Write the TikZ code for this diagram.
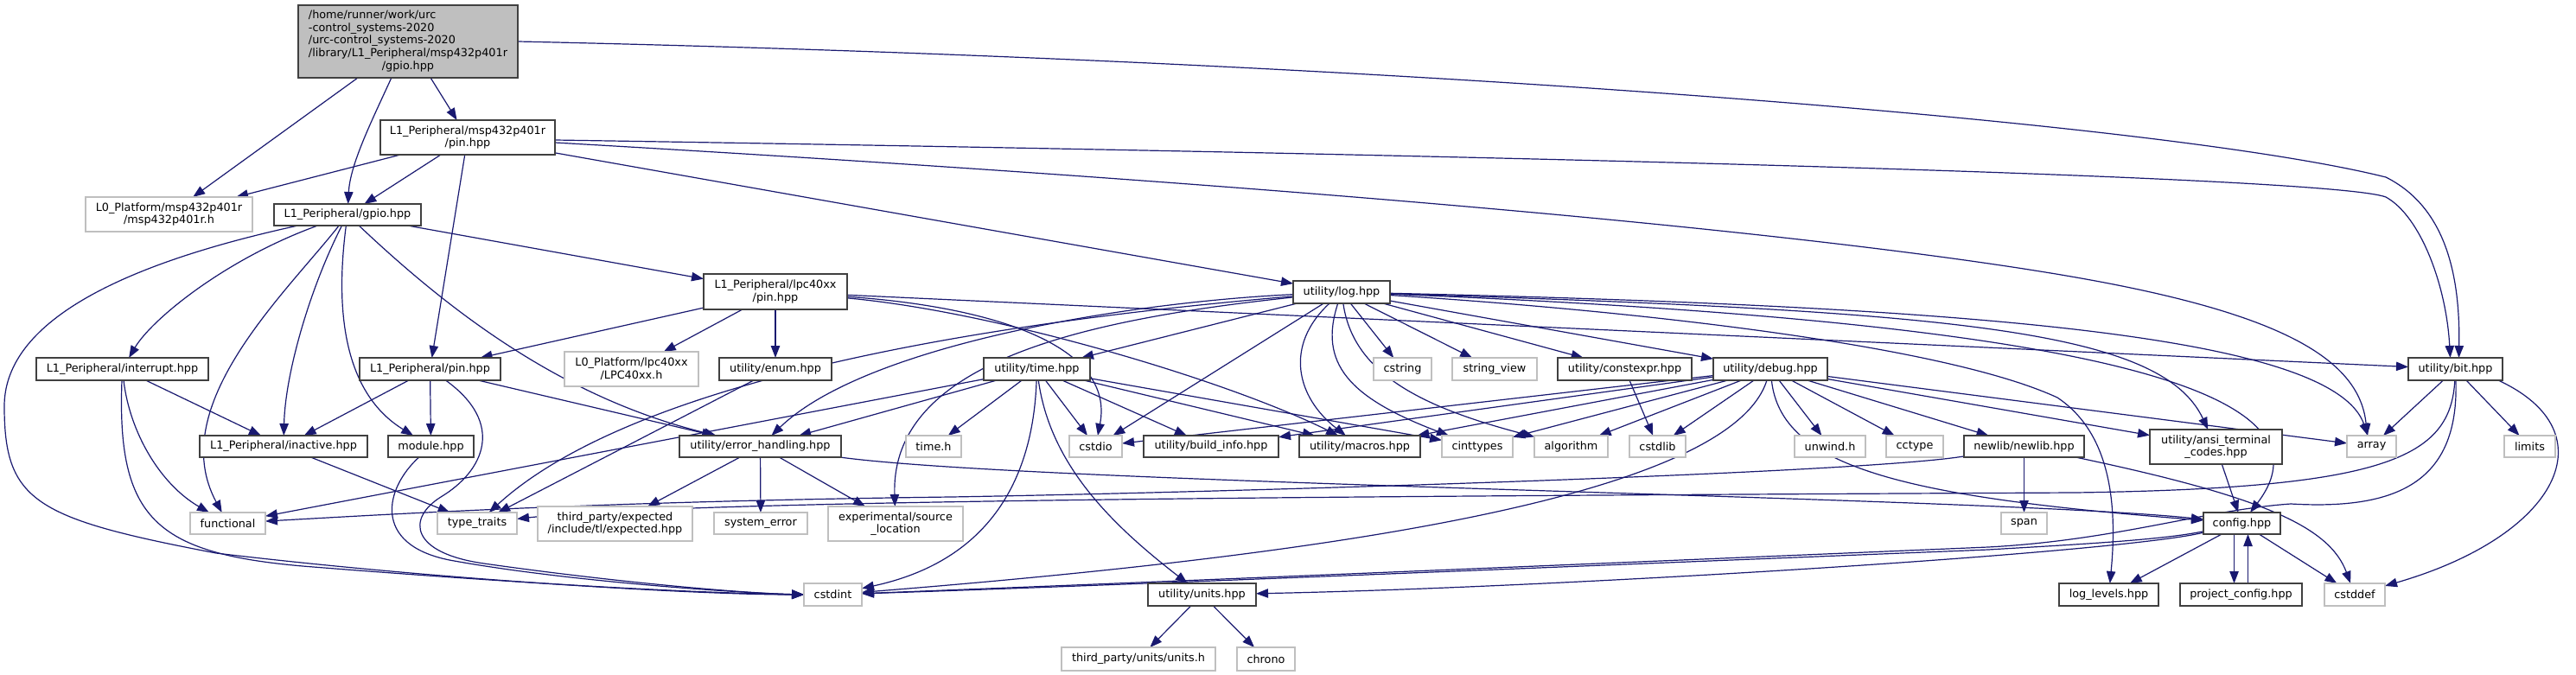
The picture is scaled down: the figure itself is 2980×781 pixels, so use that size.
\documentclass[tikz,border=0pt]{standalone}
\usepackage{fontspec}
\setmainfont{DejaVu Sans}
\usetikzlibrary{arrows.meta,calc}
\definecolor{edgeblue}{HTML}{191970}
\definecolor{bordergray}{HTML}{404040}
\definecolor{lightborder}{HTML}{BFBFBF}
\definecolor{rootfill}{HTML}{BFBFBF}
\pgfdeclarelayer{bg}
\pgfdeclarelayer{paper}
\pgfsetlayers{paper,bg,main}
\newcommand\nd[7]{\node[#1,minimum width=#5*0.5pt,minimum height=#6*0.5pt] (#2) at (#3,#4) {#7};}
\begin{document}
\begin{tikzpicture}[x=0.5pt,y=-0.5pt,
  every node/.style={font=\fontsize{6.4pt}{7.35pt}\selectfont, inner sep=0pt, outer sep=0pt, align=center, text=black},
  bx/.style={draw=bordergray, line width=0.6pt, fill=white},
  gx/.style={draw=lightborder, line width=0.6pt, fill=white},
  rootst/.style={draw=bordergray, line width=0.6pt, fill=rootfill},
  e/.style={draw=edgeblue, line width=0.6pt, -{Triangle[length=7pt,width=5.2pt]}}]
\useasboundingbox (0,0) rectangle (2980,781);
\begin{pgfonlayer}{paper}
\fill[white] (0,0) rectangle (2980,781);
\end{pgfonlayer}

% ---- nodes ----
\nd{rootst}{root}{472}{48}{254}{84}{\begin{tabular}{@{}l@{}}/home/runner/work/urc\\-control\_systems-2020\\/urc-control\_systems-2020\\/library/L1\_Peripheral/msp432p401r\\\multicolumn{1}{@{}c@{}}{/gpio.hpp}\end{tabular}}
\nd{bx}{pinm}{541}{159}{202}{40}{L1\_Peripheral/msp432p401r\\/pin.hpp}
\nd{gx}{l0m}{195.5}{248}{193}{40}{L0\_Platform/msp432p401r\\/msp432p401r.h}
\nd{bx}{gpio}{402}{248.5}{170}{25}{L1\_Peripheral/gpio.hpp}
\nd{bx}{intr}{141.5}{427}{199}{26}{L1\_Peripheral/interrupt.hpp}
\nd{bx}{pin}{497.5}{427}{163}{26}{L1\_Peripheral/pin.hpp}
\nd{gx}{l0l}{730.5}{427}{155}{40}{L0\_Platform/lpc40xx\\/LPC40xx.h}
\nd{bx}{pinl}{897}{337.5}{166}{41}{L1\_Peripheral/lpc40xx\\/pin.hpp}
\nd{bx}{enum}{897}{427}{130}{26}{utility/enum.hpp}
\nd{bx}{time}{1199.5}{427}{123}{26}{utility/time.hpp}
\nd{bx}{log}{1552}{338}{112}{26}{utility/log.hpp}
\nd{gx}{cstring}{1622.5}{427}{67}{26}{cstring}
\nd{gx}{strview}{1729}{427}{98}{26}{string\_view}
\nd{bx}{constexpr}{1879.5}{427}{155}{26}{utility/constexpr.hpp}
\nd{bx}{debug}{2048}{427}{132}{26}{utility/debug.hpp}
\nd{bx}{bit}{2840.5}{427}{109}{26}{utility/bit.hpp}

\nd{bx}{inactive}{328}{516.5}{194}{25}{L1\_Peripheral/inactive.hpp}
\nd{bx}{module}{498.5}{516.5}{99}{25}{module.hpp}
\nd{bx}{errh}{879.5}{516.5}{187}{25}{utility/error\_handling.hpp}
\nd{gx}{timeh}{1080}{516.5}{64}{25}{time.h}
\nd{gx}{cstdio}{1267.5}{516.5}{61}{25}{cstdio}
\nd{bx}{build}{1401}{516.5}{156}{25}{utility/build\_info.hpp}
\nd{bx}{macros}{1573}{516.5}{140}{25}{utility/macros.hpp}
\nd{gx}{cinttypes}{1709}{516.5}{82}{25}{cinttypes}
\nd{gx}{algorithm}{1817.5}{516.5}{85}{25}{algorithm}
\nd{gx}{cstdlib}{1917.5}{516.5}{65}{25}{cstdlib}
\nd{gx}{unwind}{2117}{516.5}{82}{25}{unwind.h}
\nd{gx}{cctype}{2215}{516.5}{66}{25}{cctype}
\nd{bx}{newlib}{2341.5}{516.5}{139}{25}{newlib/newlib.hpp}
\nd{bx}{ansi}{2563.5}{517}{153}{40}{utility/ansi\_terminal\\\_codes.hpp}
\nd{gx}{array}{2743.5}{516.5}{57}{25}{array}
\nd{gx}{limits}{2926.5}{516.5}{59}{25}{limits}

\nd{gx}{functional}{263.5}{605.5}{87}{25}{functional}
\nd{gx}{typetraits}{552}{605.5}{92}{25}{type\_traits}
\nd{gx}{expected}{711.5}{606}{179}{40}{third\_party/expected\\/include/tl/expected.hpp}
\nd{gx}{syserr}{880}{605.5}{108}{25}{system\_error}
\nd{gx}{srcloc}{1036}{606}{156}{40}{experimental/source\\\_location}
\nd{gx}{span}{2341.5}{605.5}{53}{25}{span}
\nd{bx}{config}{2593.5}{605.5}{89}{25}{config.hpp}

\nd{gx}{cstdint}{963.5}{688}{67}{26}{cstdint}
\nd{bx}{units}{1390.5}{688}{125}{26}{utility/units.hpp}
\nd{bx}{loglevels}{2439.5}{688}{115}{26}{log\_levels.hpp}
\nd{bx}{projcfg}{2592.5}{688}{141}{26}{project\_config.hpp}
\nd{gx}{cstddef}{2724}{688}{70}{26}{cstddef}

\nd{gx}{unitsh}{1317}{762.5}{178}{27}{third\_party/units/units.h}
\nd{gx}{chrono}{1464.5}{762.5}{67}{27}{chrono}

% ---- edges ----
\begin{pgfonlayer}{bg}
% root
\draw[e] (root) -- (l0m);
\draw[e] (root) .. controls (430,140) and (405,190) .. (gpio);
\draw[e] (root) -- (pinm);
\draw[e] (root.east) .. controls (1600,70) and (2500,140) .. (2760,205) .. controls (2830,240) and (2846,320) .. ($(bit.north)+(4,0)$);
% msp432 pin
\draw[e] (pinm) -- (l0m);
\draw[e] (pinm) -- (gpio);
\draw[e] (pinm) -- (pin);
\draw[e] (pinm) -- (log);
\draw[e] ($(pinm.east)+(0,3)$) .. controls (1800,180) and (2700,205) .. (2760,228) .. controls (2800,250) and (2830,330) .. ($(bit.north)+(-6,0)$);
\draw[e] ($(pinm.east)+(0,6)$) .. controls (1600,220) and (2200,280) .. (2450,330) .. controls (2650,370) and (2730,420) .. ($(array.north)+(-5,0)$);
% gpio
\draw[e] (gpio) .. controls (120,310) and (5,380) .. (5,470) .. controls (5,580) and (40,600) .. (250,640) .. controls (500,670) and (800,688) .. (cstdint.west);
\draw[e] (gpio) .. controls (260,300) and (175,370) .. (intr);
\draw[e] (gpio) .. controls (330,340) and (190,470) .. (functional);
\draw[e] (gpio) .. controls (360,330) and (330,430) .. (inactive);
\draw[e] (gpio) .. controls (390,340) and (390,450) .. (module);
\draw[e] (gpio) .. controls (520,360) and (650,460) .. (errh);
\draw[e] (gpio) -- (pinl);
% interrupt
\draw[e] (intr) -- (inactive);
\draw[e] (intr) .. controls (150,500) and (185,560) .. (functional);
\draw[e] (intr) .. controls (135,600) and (180,640) .. (350,655) .. controls (600,675) and (800,686) .. (cstdint.west);
% pin
\draw[e] (pin) -- (inactive);
\draw[e] (pin) -- (module);
\draw[e] (pin) -- (errh);
\draw[e] (pin) .. controls (585,490) and (560,545) .. (510,575) .. controls (470,600) and (475,640) .. (560,652) .. controls (700,672) and (850,686) .. (cstdint.west);
% module, inactive
\draw[e] (module) .. controls (445,565) and (430,630) .. (520,648) .. controls (650,672) and (850,686) .. (cstdint.west);
\draw[e] (inactive) -- (typetraits);
% lpc40xx pin
\draw[e] (pinl) -- (l0l);
\draw[e] (pinl) -- (pin);
\draw[e] (pinl) -- (enum);
\draw[e] (pinl) -- (bit);
\draw[e] (pinl) .. controls (1150,355) and (1290,400) .. (cstdio);
\draw[e] (pinl) .. controls (1150,360) and (1420,440) .. (macros);
\draw[e] (enum) -- (typetraits);
% time
\draw[e] (time) -- (functional);
\draw[e] (time) -- (errh);
\draw[e] (time) -- (timeh);
\draw[e] (time) -- (cstdio);
\draw[e] (time) -- (build);
\draw[e] (time) -- (cinttypes);
\draw[e] (time) -- (macros);
\draw[e] (time) .. controls (1195,560) and (1140,650) .. (cstdint);
\draw[e] (time) .. controls (1215,540) and (1290,610) .. (units);
% log
\draw[e] (log) -- (time);
\draw[e] (log) .. controls (1300,350) and (1000,400) .. (errh);
\draw[e] (log) .. controls (1250,370) and (1030,420) .. (srcloc);
\draw[e] (log) .. controls (1000,385) and (700,470) .. (typetraits);
\draw[e] (log) -- (cstdio);
\draw[e] (log) .. controls (1485,400) and (1500,460) .. (macros);
\draw[e] (log) .. controls (1525,420) and (1560,460) .. (cinttypes);
\draw[e] (log) .. controls (1565,430) and (1640,470) .. (algorithm);
\draw[e] (log) -- (cstring);
\draw[e] (log) -- (strview);
\draw[e] (log) -- (constexpr);
\draw[e] (log) -- (debug);
\draw[e] (log) .. controls (2300,355) and (2700,390) .. (array);
\draw[e] (log) .. controls (2250,360) and (2500,380) .. (ansi);
\draw[e] (log) .. controls (2350,370) and (2720,440) .. (config);
\draw[e] (log) .. controls (1900,360) and (2250,400) .. (2380,460) .. controls (2440,500) and (2450,580) .. (loglevels);
% debug
\draw[e] (debug) -- (macros);
\draw[e] (debug) -- (cinttypes);
\draw[e] (debug) -- (algorithm);
\draw[e] (debug) -- (cstdlib);
\draw[e] (debug) -- (cstdio);
\draw[e] (debug) -- (build);
\draw[e] (debug) -- (unwind);
\draw[e] (debug) -- (cctype);
\draw[e] (debug) -- (newlib);
\draw[e] (debug) -- (ansi);
\draw[e] (debug) -- (array);
\draw[e] (debug) .. controls (2000,580) and (1500,645) .. (cstdint);
\draw[e] (debug) .. controls (2060,540) and (2200,575) .. (config);
\draw[e] (constexpr) -- (cstdlib);
% error handling
\draw[e] (errh) -- (expected);
\draw[e] (errh) -- (syserr);
\draw[e] (errh) -- (srcloc);
\draw[e] (errh) .. controls (1200,560) and (2300,575) .. (config);
% newlib
\draw[e] (newlib) -- (span);
\draw[e] (newlib) .. controls (2620,575) and (2695,610) .. (cstddef);
\draw[e] (newlib) .. controls (2150,548) and (1400,570) .. (1100,575) .. controls (700,580) and (450,595) .. (functional);
% bit
\draw[e] (bit) -- (array);
\draw[e] (bit) -- (limits);
\draw[e] ($(bit.south east)+(-5,0)$) .. controls (3020,500) and (2960,620) .. (cstddef);
\draw[e] (bit) .. controls (2835,530) and (2760,565) .. (2400,570) .. controls (1600,574) and (800,578) .. (typetraits);
\draw[e] (bit) .. controls (2845,560) and (2770,590) .. (2650,583) .. controls (2550,590) and (2450,625) .. (2300,633) .. controls (1900,650) and (1300,675) .. (cstdint);
% config
\draw[e] (ansi) -- (config);
\draw[e] (config) -- (loglevels);
\draw[e] (config) -- (cstddef);
\draw[e] ($(config.south)+(-9,0)$) -- ($(projcfg.north)+(-8,0)$);
\draw[e] ($(projcfg.north)+(8,0)$) -- ($(config.south)+(7,0)$);
\draw[e] (config) .. controls (2500,625) and (2400,630) .. (2300,636) .. controls (1900,652) and (1300,677) .. (cstdint);
\draw[e] (config) .. controls (2450,640) and (1800,680) .. (units);
% units
\draw[e] (units) -- (unitsh);
\draw[e] (units) -- (chrono);
\end{pgfonlayer}
\end{tikzpicture}
\end{document}
